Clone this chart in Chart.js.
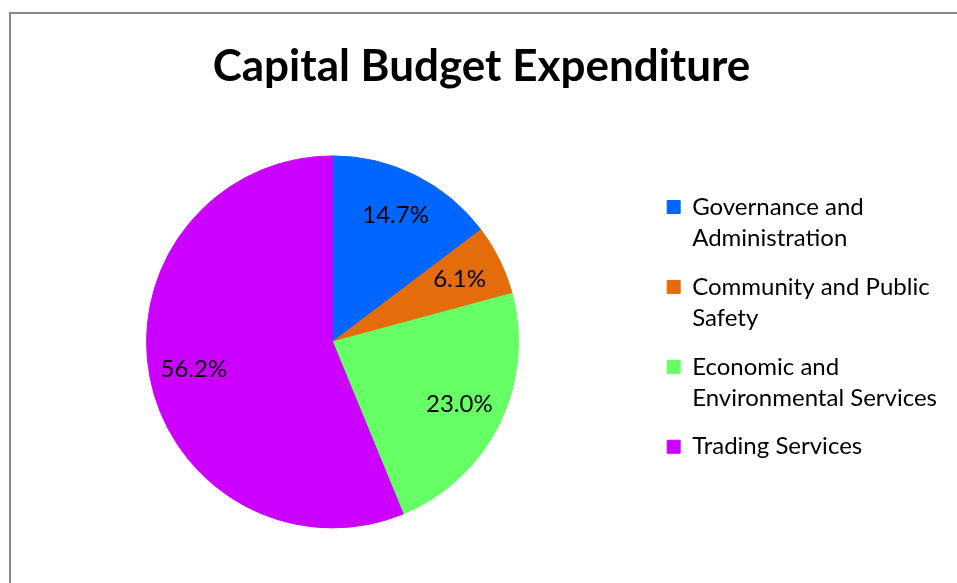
<!DOCTYPE html>
<html>
<head>
<meta charset="utf-8">
<title>Capital Budget Expenditure</title>
<script src="https://cdn.jsdelivr.net/npm/chart.js@4.4.1/dist/chart.umd.min.js"></script>
<style>
    html, body { margin: 0; padding: 0; background: #fff; overflow: hidden; }
    #frame {
        position: absolute; left: 9px; top: 12px; width: 960px; height: 600px;
        border-left: 2px solid #878787; border-top: 2px solid #878787;
    }
    #chartBox { position: absolute; left: 0; top: 0; width: 958px; height: 580px; }
</style>
</head>
<body>
<div id="frame"><div id="chartBox"><canvas id="pieChart"></canvas></div></div>
<script>
// Dati
const categories = [
    'Governance and Administration',
    'Community and Public Safety',
    'Economic and Environmental Services',
    'Trading Services'
];
const shares = [14.7, 6.1, 23.0, 56.2]; // %
const sliceColors = ['#0066FF', '#E46C0A', '#66FF66', '#CC00FF'];
const chartTitle = 'Capital Budget Expenditure';

const labelFont = '24px Lato';

// Legend text wraps like in Excel
function wrapText(ctx, text, maxWidth) {
    const words = text.split(' ');
    const lines = [];
    let line = '';
    words.forEach(word => {
        const test = line ? line + ' ' + word : word;
        if (line && ctx.measureText(test).width > maxWidth) {
            lines.push(line);
            line = word;
        } else {
            line = test;
        }
    });
    lines.push(line);
    return lines;
}

// Percent labels inside the slices
const sliceLabels = {
    id: 'sliceLabels',
    afterDatasetsDraw(chart) {
        const ctx = chart.ctx;
        const meta = chart.getDatasetMeta(0);
        ctx.save();
        ctx.font = labelFont;
        ctx.fillStyle = '#000';
        ctx.textAlign = 'center';
        ctx.textBaseline = 'middle';
        meta.data.forEach((arc, i) => {
            const p = arc.getProps(['x', 'y', 'startAngle', 'endAngle', 'outerRadius'], true);
            const mid = (p.startAngle + p.endAngle) / 2;
            const r = p.outerRadius * 0.76;
            ctx.fillText(shares[i].toFixed(1) + '%', p.x + Math.cos(mid) * r, p.y + Math.sin(mid) * r);
        });
        ctx.restore();
    }
};

const ctx = document.getElementById('pieChart').getContext('2d');
new Chart(ctx, {
    type: 'pie',
    data: {
        labels: categories,
        datasets: [{
            data: shares,
            backgroundColor: sliceColors,
            borderColor: sliceColors,
            borderWidth: 1,
            radius: 186
        }]
    },
    options: {
        responsive: true,
        maintainAspectRatio: false,
        animation: false,
        layout: { padding: { left: 5, right: 22, top: 0, bottom: 7 } },
        plugins: {
            title: {
                display: true,
                text: chartTitle,
                color: '#000',
                font: { family: 'Lato', size: 44, weight: 'bold' },
                padding: { top: 26, bottom: 4 }
            },
            legend: {
                position: 'right',
                align: 'start',
                title: {
                    display: true,
                    text: '',
                    font: { size: 10, lineHeight: 1 },
                    padding: { top: 153, bottom: 0 }
                },
                labels: {
                    boxWidth: 13,
                    boxHeight: 13,
                    padding: 18,
                    color: '#000',
                    font: { family: 'Lato', size: 24, lineHeight: 1.29 },
                    generateLabels(chart) {
                        const items = Chart.overrides.pie.plugins.legend.labels.generateLabels(chart);
                        chart.ctx.save();
                        chart.ctx.font = labelFont;
                        items.forEach(item => { item.text = wrapText(chart.ctx, item.text, 262); });
                        chart.ctx.restore();
                        return items;
                    }
                }
            },
            tooltip: { enabled: false }
        }
    },
    plugins: [sliceLabels]
});
</script>
</body>
</html>
